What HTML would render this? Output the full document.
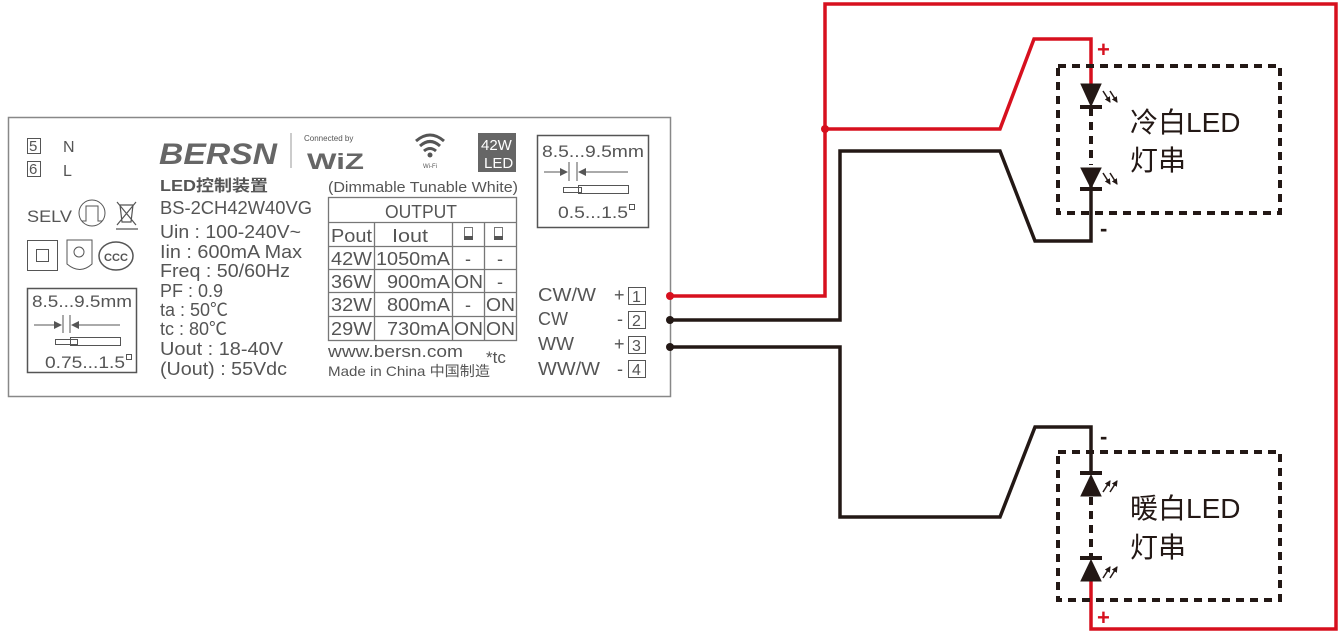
<!DOCTYPE html>
<html><head><meta charset="utf-8"><style>
html,body{margin:0;padding:0;background:#fff;}
svg{display:block;}
text{font-family:"Liberation Sans","Noto Sans CJK SC",sans-serif;}
</style></head><body>
<svg width="1343" height="635" viewBox="0 0 1343 635" xmlns="http://www.w3.org/2000/svg">
<defs>
<marker id="ah" markerWidth="6" markerHeight="6" refX="5" refY="3" orient="auto" markerUnits="userSpaceOnUse"><path d="M0 0 L6 3 L0 6 Z" fill="#231815"/></marker>
</defs>
<!-- label -->
<rect x="8.5" y="117.5" width="662" height="279" fill="#fff" stroke="#888" stroke-width="1.5"/>
<g fill="#555" font-size="18">
<rect x="27.5" y="138.5" width="13" height="15" fill="none" stroke="#555"/>
<text x="29" y="151" font-size="15">5</text>
<text x="63" y="152" font-size="16">N</text>
<rect x="27.5" y="161.5" width="13" height="15" fill="none" stroke="#555"/>
<text x="29" y="174" font-size="15">6</text>
<text x="63" y="176" font-size="16">L</text>
<text x="27" y="222" font-size="17" textLength="45" lengthAdjust="spacingAndGlyphs">SELV</text>
<circle cx="92" cy="213" r="13" fill="none" stroke="#555"/>
<path d="M82 221 L86 221 L86 206 L98 206 L98 221 L102 221" fill="none" stroke="#555"/>
<path d="M117 202 L136 225 M136 202 L117 225 M120 205 L133 205 L131 222 L122 222 Z M116 229 L138 229" fill="none" stroke="#555" stroke-width="1.2"/>
<rect x="27.5" y="240.5" width="30" height="30" fill="none" stroke="#555"/>
<rect x="36.5" y="249.5" width="12" height="12" fill="none" stroke="#555"/>
<path d="M67 240 L92 240 L92 264 Q80 275 67 264 Z" fill="none" stroke="#555"/>
<circle cx="79" cy="252" r="5" fill="none" stroke="#555"/>
<ellipse cx="116" cy="256" rx="17" ry="14" fill="none" stroke="#555" stroke-width="1.5"/>
<text x="104" y="261" font-size="11" font-weight="bold" textLength="24" lengthAdjust="spacingAndGlyphs">CCC</text>
<rect x="27.5" y="288.5" width="109" height="84" fill="none" stroke="#555" stroke-width="1.5"/>
<text x="32" y="307" font-size="17" textLength="100" lengthAdjust="spacingAndGlyphs">8.5...9.5mm</text>
<path d="M34 325 L58 325 M63 315 L63 333 M70 315 L70 333 M75 325 L120 325" stroke="#555"/>
<path d="M62 325 L54 321 L54 329 Z M71 325 L79 321 L79 329 Z"/>
<rect x="55.5" y="339.5" width="22" height="5" fill="none" stroke="#555"/>
<rect x="70.5" y="337.5" width="50" height="8" fill="none" stroke="#555"/>
<text x="45" y="368" font-size="17" textLength="80" lengthAdjust="spacingAndGlyphs">0.75...1.5</text>
<rect x="126.5" y="354.5" width="5" height="5" fill="none" stroke="#555"/>

<text x="159" y="164" font-size="30" font-weight="bold" font-style="italic" fill="#666" textLength="118" lengthAdjust="spacingAndGlyphs">BERSN</text>
<path d="M291 133 L291 168" stroke="#999"/>
<text x="160" y="191" font-size="16" font-weight="bold" textLength="108" lengthAdjust="spacingAndGlyphs">LED控制装置</text>
<text x="160" y="214" font-size="18" textLength="152" lengthAdjust="spacingAndGlyphs">BS-2CH42W40VG</text>
<text x="160" y="238" textLength="141" lengthAdjust="spacingAndGlyphs">Uin : 100-240V~</text>
<text x="160" y="258" textLength="142" lengthAdjust="spacingAndGlyphs">Iin : 600mA Max</text>
<text x="160" y="277" textLength="130" lengthAdjust="spacingAndGlyphs">Freq : 50/60Hz</text>
<text x="160" y="297">PF : 0.9</text>
<text x="160" y="316">ta : 50℃</text>
<text x="160" y="335">tc : 80℃</text>
<text x="160" y="355" textLength="123" lengthAdjust="spacingAndGlyphs">Uout : 18-40V</text>
<text x="160" y="375" textLength="127" lengthAdjust="spacingAndGlyphs">(Uout) : 55Vdc</text>

<text x="304" y="141" font-size="8">Connected by</text>
<text x="307" y="169" font-size="22" font-weight="bold" fill="#666" textLength="57" lengthAdjust="spacingAndGlyphs">WiZ</text>
<path d="M416 141 Q430 129 444 141 M420 146 Q430 137 440 146 M424 151 Q430 146 436 151" fill="none" stroke="#555" stroke-width="3"/>
<circle cx="430" cy="155" r="2.5"/>
<text x="423" y="168" font-size="6">Wi-Fi</text>
<rect x="478" y="133" width="38" height="39" fill="#666"/>
<text x="481" y="150" font-size="15" fill="#fff">42W</text>
<text x="484" y="168" font-size="15" fill="#fff">LED</text>
<text x="328" y="192" font-size="15" textLength="190" lengthAdjust="spacingAndGlyphs">(Dimmable Tunable White)</text>

<g fill="none" stroke="#777" stroke-width="1.3">
<rect x="328.5" y="197.5" width="188" height="143"/>
<path d="M328 222.5H516 M328 246.5H516 M328 269.5H516 M328 292.5H516 M328 316.5H516 M374.5 222V340 M452.5 222V340 M484.5 222V340"/>
</g>
<text x="385" y="218" textLength="72" lengthAdjust="spacingAndGlyphs">OUTPUT</text>
<text x="331" y="242" textLength="41" lengthAdjust="spacingAndGlyphs">Pout</text>
<text x="392" y="242" textLength="36" lengthAdjust="spacingAndGlyphs">Iout</text>
<rect x="464.5" y="227.5" width="8" height="12" fill="none" stroke="#777"/><rect x="464" y="236" width="9" height="4" fill="#555"/>
<rect x="494.5" y="227.5" width="8" height="12" fill="none" stroke="#777"/><rect x="494" y="236" width="9" height="4" fill="#555"/>
<text x="331" y="265" textLength="41" lengthAdjust="spacingAndGlyphs">42W</text><text x="376" y="265" textLength="74" lengthAdjust="spacingAndGlyphs">1050mA</text><text x="465" y="265">-</text><text x="497" y="265">-</text>
<text x="331" y="288" textLength="41" lengthAdjust="spacingAndGlyphs">36W</text><text x="387" y="288" textLength="63" lengthAdjust="spacingAndGlyphs">900mA</text><text x="454" y="288" textLength="29" lengthAdjust="spacingAndGlyphs">ON</text><text x="497" y="288">-</text>
<text x="331" y="311" textLength="41" lengthAdjust="spacingAndGlyphs">32W</text><text x="387" y="311" textLength="63" lengthAdjust="spacingAndGlyphs">800mA</text><text x="465" y="311">-</text><text x="486" y="311" textLength="29" lengthAdjust="spacingAndGlyphs">ON</text>
<text x="331" y="335" textLength="41" lengthAdjust="spacingAndGlyphs">29W</text><text x="387" y="335" textLength="63" lengthAdjust="spacingAndGlyphs">730mA</text><text x="454" y="335" textLength="29" lengthAdjust="spacingAndGlyphs">ON</text><text x="486" y="335" textLength="29" lengthAdjust="spacingAndGlyphs">ON</text>
<text x="328" y="357" font-size="17" textLength="135" lengthAdjust="spacingAndGlyphs">www.bersn.com</text>
<text x="328" y="376" font-size="14" textLength="162" lengthAdjust="spacingAndGlyphs">Made in China  中国制造</text>
<text x="486" y="363" font-size="17">*tc</text>

<rect x="537.5" y="135.5" width="111" height="92" fill="none" stroke="#555" stroke-width="1.5"/>
<text x="542" y="157" font-size="17" textLength="102" lengthAdjust="spacingAndGlyphs">8.5...9.5mm</text>
<path d="M544 172 L566 172 M569 162 L569 181 M577 162 L577 181 M582 172 L628 172" stroke="#555"/>
<path d="M568 172 L560 168 L560 176 Z M578 172 L586 168 L586 176 Z"/>
<rect x="563.5" y="187.5" width="18" height="5" fill="none" stroke="#555"/>
<rect x="578.5" y="185.5" width="50" height="8" fill="none" stroke="#555"/>
<text x="558" y="218" font-size="17" textLength="70" lengthAdjust="spacingAndGlyphs">0.5...1.5</text>
<rect x="629.5" y="204.5" width="5" height="5" fill="none" stroke="#555"/>

<text x="538" y="301" textLength="58" lengthAdjust="spacingAndGlyphs">CW/W</text><text x="614" y="301">+</text>
<text x="538" y="325" textLength="30" lengthAdjust="spacingAndGlyphs">CW</text><text x="617" y="325">-</text>
<text x="538" y="350" textLength="36" lengthAdjust="spacingAndGlyphs">WW</text><text x="614" y="350">+</text>
<text x="538" y="375" textLength="62" lengthAdjust="spacingAndGlyphs">WW/W</text><text x="617" y="375">-</text>
<g fill="none" stroke="#555"><rect x="628.5" y="287.5" width="17" height="17"/><rect x="628.5" y="311.5" width="17" height="17"/><rect x="628.5" y="336.5" width="17" height="17"/><rect x="628.5" y="360.5" width="17" height="17"/></g>
<text x="632" y="302" font-size="16">1</text><text x="632" y="326" font-size="16">2</text><text x="632" y="351" font-size="16">3</text><text x="632" y="375" font-size="16">4</text>
</g>

<!-- wires -->
<g fill="none" stroke-width="3.5" stroke-linejoin="miter">
<path d="M670 296 L825 296 L825 4 L1336 4 L1336 629 L1091 629 L1091 575" stroke="#d7101e"/>
<path d="M825 129 L1000 129 L1034 39 L1091 39 L1091 88" stroke="#d7101e"/>
<path d="M670 320 L840 320 L840 151 L1000 151 L1035 241 L1091 241 L1091 185" stroke="#231815"/>
<path d="M670 347 L840 347 L840 517 L1000 517 L1035 427 L1091 427 L1091 475" stroke="#231815"/>
</g>
<circle cx="670" cy="296" r="4" fill="#d7101e"/>
<circle cx="825" cy="129" r="4" fill="#d7101e"/>
<circle cx="670" cy="320" r="4" fill="#231815"/>
<circle cx="670" cy="347" r="4" fill="#231815"/>

<!-- dashed boxes -->
<g fill="none" stroke="#231815" stroke-width="4" stroke-dasharray="8 6">
<rect x="1058" y="66" width="222" height="147"/>
<rect x="1058" y="452" width="222" height="148"/>
<path d="M1091 108 L1091 165 M1091 497 L1091 556"/>
</g>
<!-- LEDs -->
<g fill="#231815" stroke="#231815">
<path d="M1081 84 L1101 84 L1091 106 Z"/><rect x="1080" y="105" width="22" height="4" stroke="none"/>
<path d="M1081 168 L1101 168 L1091 188 Z"/><rect x="1080" y="187" width="22" height="4" stroke="none"/>
<rect x="1080" y="471" width="22" height="4" stroke="none"/><path d="M1081 496 L1101 496 L1091 475 Z"/>
<rect x="1080" y="556" width="22" height="4" stroke="none"/><path d="M1081 581 L1101 581 L1091 560 Z"/>
<g stroke-width="1.5" fill="none" marker-end="url(#ah)">
<path d="M1103 91 L1110 102"/><path d="M1110 91 L1117 102"/>
<path d="M1103 173 L1110 184"/><path d="M1110 173 L1117 184"/>
<path d="M1103 492 L1110 481"/><path d="M1110 492 L1117 481"/>
<path d="M1103 578 L1110 567"/><path d="M1110 578 L1117 567"/>
</g>
</g>
<text x="1097" y="57" font-size="22" font-weight="bold" fill="#d7101e">+</text>
<text x="1100" y="236" font-size="22" font-weight="bold" fill="#231815">-</text>
<text x="1100" y="444" font-size="22" font-weight="bold" fill="#231815">-</text>
<text x="1097" y="625" font-size="22" font-weight="bold" fill="#d7101e">+</text>
<g font-size="28" fill="#231815">
<text x="1130" y="132">冷白LED</text>
<text x="1130" y="170">灯串</text>
<text x="1130" y="518">暖白LED</text>
<text x="1130" y="557">灯串</text>
</g>
</svg>
</body></html>
